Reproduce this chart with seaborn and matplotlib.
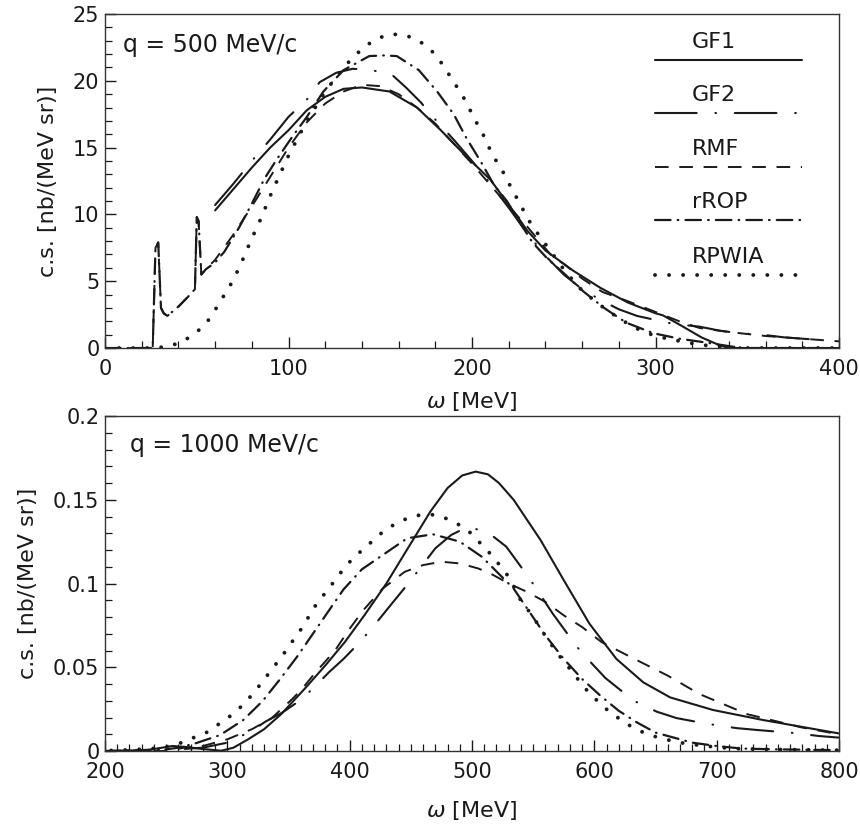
import numpy as np
import pandas as pd
import matplotlib
matplotlib.use('Agg')
import matplotlib.pyplot as plt
import seaborn as sns
from matplotlib.ticker import MultipleLocator, FuncFormatter

# ---- q = 500 MeV/c ----
w500_gf1 = [60, 70, 80, 90, 100, 110, 120, 130, 140, 155, 170, 183, 195, 210, 226, 230, 240, 255, 270, 285, 300, 304, 315, 325, 335, 340, 400]
gf1_500 = [10.3, 11.9, 13.5, 15.0, 16.3, 17.8, 18.8, 19.4, 19.5, 19.2, 18.0, 16.3, 14.6, 12.6, 9.6, 8.8, 7.3, 5.8, 4.5, 3.4, 2.6, 2.45, 1.6, 0.8, 0.2, 0.0, 0.0]

w500_gf2 = [60, 70, 80, 90, 100, 110, 117, 126, 135, 145, 156, 164, 172, 180, 190, 200, 210, 220, 230, 240, 250, 260, 270, 280, 290, 300, 310, 324, 335, 346, 358, 370, 380, 390]
gf2_500 = [10.7, 12.3, 14.0, 15.6, 17.3, 18.6, 19.9, 20.6, 20.9, 20.8, 20.5, 19.5, 18.4, 17.1, 15.6, 14.0, 12.3, 10.5, 8.6, 6.9, 5.5, 4.4, 3.6, 2.9, 2.4, 2.1, 1.8, 1.6, 1.3, 1.1, 1.0, 0.8, 0.7, 0.6]

w500_rmf = [0, 26, 27.5, 29, 30.5, 32, 34, 40, 45, 49, 50, 51, 52.5, 55, 60, 70, 80, 90, 100, 110, 120, 130, 140, 150, 160, 170, 180, 190, 200, 210, 220, 230, 244, 250, 260, 271, 285, 300, 313, 324, 340, 360, 380, 400]
rmf_500 = [0, 0, 7.5, 7.9, 3.0, 2.6, 2.4, 3.1, 3.8, 4.4, 9.8, 9.5, 5.5, 5.9, 6.6, 8.5, 10.6, 12.8, 15.0, 16.9, 18.3, 19.2, 19.7, 19.6, 19.0, 18.0, 16.8, 15.3, 13.8, 12.2, 10.6, 9.1, 6.8, 6.3, 5.2, 4.2, 3.5, 2.7, 2.0, 1.5, 1.2, 0.9, 0.7, 0.5]

w500_rrop = [0, 26, 27.5, 29, 30.5, 32, 34, 40, 45, 49, 50, 51, 52.5, 55, 60, 65, 73, 80, 87, 94, 102, 110, 119, 130, 144, 152, 159, 171, 181, 190, 197, 205, 212, 219, 226, 233, 241, 250, 261, 272, 284, 299, 313, 328, 342, 350, 400]
rrop_500 = [0, 0, 7.5, 7.9, 3.0, 2.6, 2.4, 3.1, 3.8, 4.4, 9.8, 9.5, 5.5, 5.9, 6.4, 7.2, 9.0, 10.8, 12.7, 14.2, 15.8, 17.3, 19.2, 20.8, 21.85, 21.9, 21.85, 20.8, 19.2, 17.5, 15.7, 13.9, 12.2, 11.0, 9.4, 7.9, 6.7, 5.6, 4.2, 3.0, 1.9, 1.1, 0.7, 0.4, 0.1, 0.0, 0.0]

w500_rpwia = [0, 26, 34, 42, 48, 54, 58, 62, 66, 70, 73, 76, 79, 82, 85, 88, 91, 94, 100, 110, 120, 130, 137, 143, 149, 156, 164, 171, 177, 182, 186, 190, 194, 198, 201, 205, 208, 211, 215, 219, 222, 226, 229, 233, 242, 251, 260, 268, 276, 284, 292, 300, 310, 320, 330, 340, 350, 400]
rpwia_500 = [0, 0, 0.1, 0.45, 1.0, 1.65, 2.4, 3.3, 4.2, 5.1, 6.0, 6.9, 7.9, 8.8, 9.7, 10.7, 11.7, 12.6, 14.4, 17.0, 19.2, 21.0, 22.0, 22.7, 23.2, 23.5, 23.4, 23.0, 22.4, 21.6, 20.8, 19.9, 19.1, 18.1, 17.2, 16.3, 15.4, 14.5, 13.6, 12.7, 11.75, 10.9, 10.0, 9.1, 7.4, 5.7, 4.3, 3.4, 2.6, 1.9, 1.3, 0.9, 0.6, 0.35, 0.15, 0.05, 0.0, 0.0]

# ---- q = 1000 MeV/c ----
w1000_gf1 = [200, 230, 255, 265, 280, 295, 305, 317, 330, 344, 363, 380, 396, 412, 430, 445, 466, 480, 492, 503, 513, 522, 534, 556, 575, 596, 618, 640, 662, 697, 738, 800]
gf1_1000 = [0, 0, 0.003, 0.0025, 0.0012, 0.0002, 0.002, 0.007, 0.013, 0.022, 0.037, 0.051, 0.065, 0.081, 0.100, 0.118, 0.143, 0.157, 0.1645, 0.1668, 0.1652, 0.1600, 0.150, 0.126, 0.102, 0.076, 0.055, 0.041, 0.032, 0.0245, 0.0185, 0.0105]

w1000_gf2 = [200, 260, 280, 300, 320, 331, 345, 359, 371, 383, 395, 407, 419, 430, 449, 470, 483, 497, 514, 528, 547, 557, 566, 586, 597, 609, 622, 635, 651, 667, 683, 699, 716, 734, 766, 783, 800]
gf2_1000 = [0, 0.001, 0.002, 0.005, 0.012, 0.0175, 0.023, 0.030, 0.038, 0.047, 0.055, 0.064, 0.074, 0.084, 0.101, 0.121, 0.129, 0.134, 0.130, 0.122, 0.103, 0.092, 0.082, 0.062, 0.053, 0.0436, 0.036, 0.029, 0.0235, 0.0197, 0.0175, 0.0155, 0.0137, 0.0125, 0.0106, 0.009, 0.008]

w1000_rmf = [200, 250, 265, 280, 300, 320, 336, 353, 361, 371, 388, 399, 411, 427, 445, 460, 475, 490, 505, 515, 530, 545, 560, 575, 590, 606, 630, 660, 686, 725, 770, 800]
rmf_1000 = [0, 0, 0.002, 0.003, 0.007, 0.013, 0.0195, 0.031, 0.037, 0.046, 0.060, 0.072, 0.084, 0.097, 0.107, 0.111, 0.113, 0.112, 0.109, 0.106, 0.100, 0.095, 0.089, 0.081, 0.074, 0.065, 0.056, 0.045, 0.034, 0.022, 0.014, 0.010]

w1000_rrop = [200, 250, 260, 274, 294, 313, 329, 343, 357, 369, 382, 395, 410, 431, 447, 468, 490, 508, 523, 534, 547, 560, 575, 590, 605, 620, 635, 650, 665, 680, 700, 720, 750, 800]
rrop_1000 = [0, 0.001, 0.002, 0.0046, 0.0095, 0.0185, 0.030, 0.0428, 0.0563, 0.069, 0.0828, 0.0965, 0.1085, 0.119, 0.127, 0.1294, 0.125, 0.116, 0.105, 0.097, 0.083, 0.069, 0.055, 0.043, 0.033, 0.024, 0.017, 0.011, 0.008, 0.005, 0.003, 0.0015, 0.001, 0.0005]

w1000_rpwia = [205, 216, 227, 239, 250, 261, 271, 282, 291, 300, 309, 317, 324, 331, 338, 345, 351, 358, 364, 369, 376, 383, 389, 396, 404, 413, 421, 429, 439, 449, 460, 471, 482, 492, 501, 508, 516, 523, 530, 535, 540, 547, 553, 559, 565, 572, 579, 586, 593, 601, 609, 618, 627, 637, 648, 658, 670, 690, 713, 740, 800]
rpwia_1000 = [0.0003, 0.0006, 0.001, 0.0015, 0.0025, 0.0046, 0.0076, 0.0106, 0.0151, 0.0195, 0.0249, 0.0309, 0.037, 0.0436, 0.0503, 0.0569, 0.0633, 0.0703, 0.0768, 0.0838, 0.0907, 0.097, 0.103, 0.1097, 0.116, 0.1216, 0.127, 0.132, 0.1363, 0.1395, 0.1413, 0.1409, 0.138, 0.134, 0.129, 0.123, 0.117, 0.1106, 0.104, 0.097, 0.0897, 0.083, 0.0766, 0.0698, 0.0634, 0.0563, 0.050, 0.0434, 0.037, 0.031, 0.0255, 0.0205, 0.016, 0.012, 0.009, 0.007, 0.005, 0.003, 0.0015, 0.001, 0.0005]

models = ['GF1', 'GF2', 'RMF', 'rROP', 'RPWIA']
styles = {
    'GF1': dict(linestyle='-', lw=1.5),
    'GF2': dict(linestyle=(0, (20, 9, 0.3, 9)), lw=1.5, dash_capstyle='round'),
    'RMF': dict(linestyle=(0, (7, 5.5)), lw=1.4),
    'rROP': dict(linestyle=(0, (7, 3.2, 0.3, 3.2)), lw=1.6, dash_capstyle='round'),
    'RPWIA': dict(linestyle=(0, (0.01, 3.6)), lw=2.8, dash_capstyle='round'),
}
ink = '#1a1a1a'

sns.set_style('ticks')
plt.rcParams['font.family'] = ['DejaVu Sans']
plt.rcParams['mathtext.fontset'] = 'dejavusans'


def draw(ax, w, v, name):
    sns.lineplot(x=np.array(w, float), y=np.array(v, float), ax=ax, color=ink,
                 estimator=None, sort=True, **styles[name])


def style_axes(ax, xmaj, xmin, ymaj, ymin):
    ax.xaxis.set_major_locator(MultipleLocator(xmaj))
    ax.xaxis.set_minor_locator(MultipleLocator(xmin))
    ax.yaxis.set_major_locator(MultipleLocator(ymaj))
    ax.yaxis.set_minor_locator(MultipleLocator(ymin))
    ax.yaxis.set_major_formatter(FuncFormatter(lambda val, _: f'{val:g}'))
    ax.tick_params(which='both', direction='in', top=False, right=False, colors=ink, labelsize=15)
    ax.tick_params(which='major', length=8, width=1.0)
    ax.tick_params(which='minor', length=5, width=0.9)
    ax.tick_params(axis='x', pad=8)
    ax.tick_params(axis='y', pad=4)
    for s in ax.spines.values():
        s.set_visible(True)
        s.set_linewidth(1.0)
        s.set_color('#333333')
    ax.set_ylabel('c.s. [nb/(MeV sr)]', fontsize=16, color=ink, labelpad=11)


fig = plt.figure(figsize=(8.6, 8.33), dpi=100)
ax1 = fig.add_axes([0.1221, 0.5822, 0.8535, 0.401])
ax2 = fig.add_axes([0.1221, 0.0984, 0.8535, 0.4022])

top = {'GF1': (w500_gf1, gf1_500), 'GF2': (w500_gf2, gf2_500), 'RMF': (w500_rmf, rmf_500),
       'rROP': (w500_rrop, rrop_500), 'RPWIA': (w500_rpwia, rpwia_500)}
bot = {'GF1': (w1000_gf1, gf1_1000), 'GF2': (w1000_gf2, gf2_1000), 'RMF': (w1000_rmf, rmf_1000),
       'rROP': (w1000_rrop, rrop_1000), 'RPWIA': (w1000_rpwia, rpwia_1000)}

for name in models:
    draw(ax1, *top[name], name)
    draw(ax2, *bot[name], name)

ax1.set_xlim(0, 400)
ax1.set_ylim(0, 25)
ax2.set_xlim(200, 800)
ax2.set_ylim(0, 0.2)
style_axes(ax1, 100, 20, 5, 1)
style_axes(ax2, 100, 10, 0.05, 0.01)
ax1.set_xlabel(r'$\omega$ [MeV]', fontsize=16, color=ink, labelpad=8)
ax2.set_xlabel(r'$\omega$ [MeV]', fontsize=16, color=ink, labelpad=12)

ax1.text(0.025, 0.907, 'q = 500 MeV/c', transform=ax1.transAxes, va='center', ha='left', fontsize=17, color=ink)
ax2.text(0.034, 0.913, 'q = 1000 MeV/c', transform=ax2.transAxes, va='center', ha='left', fontsize=17, color=ink)

# legend: label above each line sample
leg_y = [0.862, 0.704, 0.542, 0.383, 0.219]
for name, yy in zip(models, leg_y):
    ax1.plot([0.749, 0.950], [yy, yy], transform=ax1.transAxes, color=ink, **styles[name])
    ax1.text(0.80, yy + 0.025, name, transform=ax1.transAxes, ha='left', va='bottom', fontsize=16, color=ink)

fig.savefig('out.png', dpi=100)
